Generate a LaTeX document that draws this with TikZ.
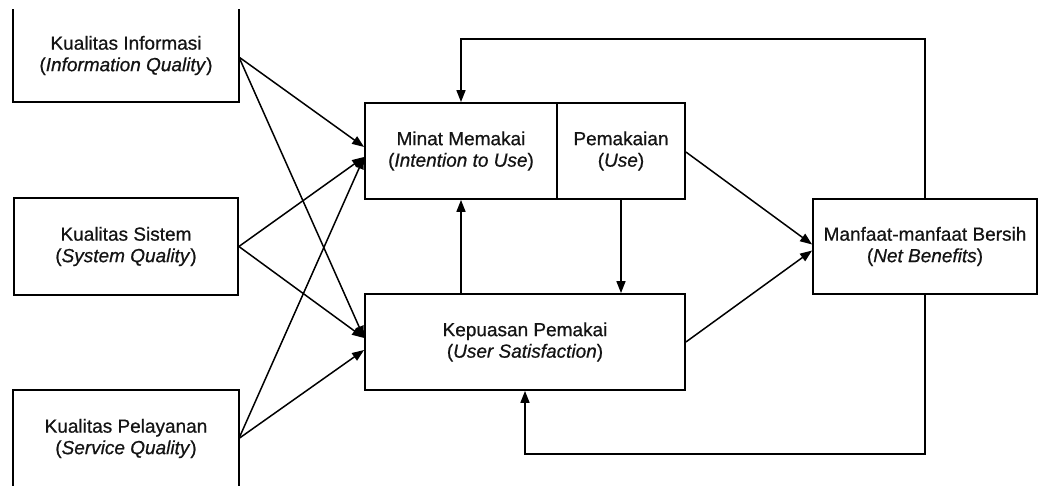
\documentclass[tikz,border=0pt]{standalone}
\usepackage{fontspec}
\setmainfont{Liberation Sans}[FakeBold=0.7]
\usetikzlibrary{arrows.meta,calc}
\begin{document}
\begin{tikzpicture}[x=1pt,y=-1pt,
  line width=1.6pt,
  box/.style={draw, line width=1.8pt, inner sep=0pt, align=center,
    font=\fontsize{19}{21.5}\selectfont, text=black!92},
  arr/.style={-{Triangle[length=12pt,width=9pt]}, line width=1.5pt}]
\useasboundingbox (0,0) rectangle (1042,486);
% left boxes
\node[box, draw=none, minimum width=224pt, minimum height=91pt] (iq) at (126,55.5)
  {Kualitas Informasi\\(\textit{Information Quality})};
\draw[line width=1.8pt] (iq.north west) |- (iq.south east) -- (iq.north east);
\node[box, minimum width=224pt, minimum height=97pt] (sq) at (126,246.5)
  {Kualitas Sistem\\(\textit{System Quality})};
\node[box, draw=none, minimum width=224pt, minimum height=95pt] (svq) at (126,438.5)
  {Kualitas Pelayanan\\(\textit{Service Quality})};
\draw[line width=1.8pt] (svq.south west) |- (svq.north east) -- (svq.south east);
% middle
\node[box, minimum width=192pt, minimum height=96pt] (minat) at (461,151)
  {Minat Memakai\\(\textit{Intention to Use})};
\node[box, minimum width=128pt, minimum height=96pt] (pem) at (621,151)
  {Pemakaian\\(\textit{Use})};
\node[box, minimum width=320pt, minimum height=96pt] (kep) at (525,342)
  {Kepuasan Pemakai\\(\textit{User Satisfaction})};
% right
\node[box, minimum width=224pt, minimum height=95pt] (nb) at (925,246.5)
  {Manfaat-manfaat Bersih\\(\textit{Net Benefits})};
\coordinate (top) at (0,39);
\coordinate (bot) at (0,454);
% inputs
\draw[arr] ($(iq.east)+(0,1.5)$) -- ($(minat.west)+(0,-4)$);
\draw[arr] ($(iq.east)+(0,1.5)$) -- ($(kep.west)+(0,-4)$);
\draw[arr] (sq.east) -- ($(minat.west)+(0,6)$);
\draw[arr] (sq.east) -- ($(kep.west)+(0,-4)$);
\draw[arr] (svq.east) -- ($(minat.west)+(0,6)$);
\draw[arr] (svq.east) -- ($(kep.west)+(0,8)$);
% internal
\draw[arr] (minat.south |- kep.north) -- (minat.south);
\draw[arr] (pem.south) -- (pem.south |- kep.north);
\draw[arr] ($(pem.east)+(0,1)$) -- ($(nb.west)+(0,-2)$);
\draw[arr] (kep.east) -- ($(nb.west)+(0,4)$);
% feedback
\draw[arr] (nb.north) |- (minat.north |- top) -- (minat.north);
\draw[arr] (nb.south) |- (kep.south |- bot) -- (kep.south);
\end{tikzpicture}
\end{document}
